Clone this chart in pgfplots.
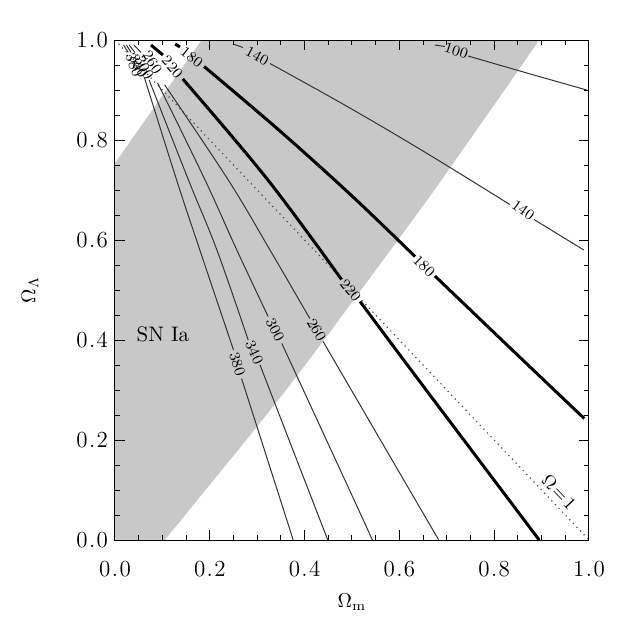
\documentclass[border=0pt]{standalone}
\usepackage{pgfplots}
\pgfplotsset{compat=1.18}
\definecolor{sngray}{RGB}{200,200,200}
\newcommand{\clab}[4]{\node[font=\fontsize{7.5}{8}\selectfont, rotate=#3, inner sep=0pt] at (axis cs:#1,#2) {#4};}
\newcommand{\tl}[2]{#1\kern0.06em.\kern0.06em#2}
\pgfplotsset{
  thin contour/.style={black!80, line width=0.5pt, smooth, tension=0.6},
  thick contour/.style={black, line width=1.5pt, smooth, tension=0.6},
}
\begin{document}
\begin{tikzpicture}
\path[use as bounding box] (-57.5pt,-41.5pt) rectangle (254pt,270pt);
\begin{axis}[
  anchor=south west, at={(0,0)},
  scale only axis, width=237pt, height=250pt,
  xmin=0, xmax=1, ymin=0, ymax=1,
  xtick={0,0.2,0.4,0.6,0.8,1}, ytick={0,0.2,0.4,0.6,0.8,1},
  xticklabels={\tl00,\tl02,\tl04,\tl06,\tl08,\tl10},
  yticklabels={\tl00,\tl02,\tl04,\tl06,\tl08,\tl10},
  minor tick num=3,
  tick align=inside,
  major tick length=5pt, minor tick length=2.5pt,
  axis on top,
  axis line style={line width=0.5pt},
  every tick/.style={line width=0.5pt, black},
  tick label style={font=\fontsize{11.5}{13}\selectfont},
  xticklabel style={yshift=-7pt},
  xlabel={$\Omega_{\mathrm{m}}$},
  ylabel={$\Omega_{\Lambda}$},
  xlabel style={at={(axis description cs:0.5,-0.124)}, anchor=center, font=\fontsize{10}{12}\selectfont},
  ylabel style={at={(axis description cs:-0.179,0.5)}, anchor=center, rotate=0, font=\fontsize{10}{12}\selectfont},
]
% SN Ia band
\addplot[fill=sngray, draw=none] coordinates {
 (0,0) (0,0.754) (0.183,1.0) (0.895,1.0) (0.822,0.9) (0.748,0.8) (0.674,0.7) (0.597,0.6)
 (0.519,0.5) (0.441,0.4) (0.361,0.3) (0.277,0.2) (0.191,0.1) (0.105,0)
} -- cycle;
% Omega = 1
\addplot[black!70, dotted, line width=0.6pt] coordinates {(0,1) (1,0)};
% 100
\addplot[thin contour] coordinates {(0.675,0.99) (0.696,0.987)};
\addplot[thin contour] coordinates {(0.745,0.968) (0.869,0.934) (0.995,0.90)};
% 140
\addplot[thin contour] coordinates {(0.249,0.992) (0.27,0.985)};
\addplot[thin contour] coordinates {(0.327,0.953) (0.49,0.867) (0.655,0.775) (0.833,0.671)};
\addplot[thin contour] coordinates {(0.884,0.641) (0.989,0.580)};
% 180
\addplot[thick contour] coordinates {(0.127,0.992) (0.137,0.986)};
\addplot[thick contour] coordinates {(0.188,0.947) (0.348,0.818) (0.50,0.688) (0.633,0.567)};
\addplot[thick contour] coordinates {(0.675,0.528) (0.837,0.381) (0.99,0.243)};
% 220
\addplot[thick contour] coordinates {(0.076,0.99) (0.101,0.97)};
\addplot[thick contour] coordinates {(0.143,0.922) (0.321,0.722) (0.478,0.521)};
\addplot[thick contour] coordinates {(0.517,0.477) (0.643,0.317) (0.895,0.0)};
% 260
\addplot[thin contour] coordinates {(0.040,0.99) (0.055,0.975)};
\addplot[thin contour] coordinates {(0.105,0.91) (0.239,0.72) (0.327,0.58) (0.411,0.443)};
\addplot[thin contour] coordinates {(0.439,0.397) (0.560,0.20) (0.683,0.0)};
% 300
\addplot[thin contour] coordinates {(0.030,0.99) (0.042,0.975)};
\addplot[thin contour] coordinates {(0.090,0.914) (0.190,0.72) (0.257,0.58) (0.323,0.447)};
\addplot[thin contour] coordinates {(0.352,0.393) (0.503,0.083) (0.543,0.0)};
% 340
\addplot[thin contour] coordinates {(0.024,0.99) (0.034,0.975)};
\addplot[thin contour] coordinates {(0.072,0.92) (0.155,0.72) (0.215,0.58) (0.281,0.40)};
\addplot[thin contour] coordinates {(0.306,0.35) (0.415,0.083) (0.449,0.0)};
% 380
\addplot[thin contour] coordinates {(0.018,0.99) (0.028,0.975)};
\addplot[thin contour] coordinates {(0.062,0.925) (0.130,0.72) (0.179,0.58) (0.250,0.38)};
\addplot[thin contour] coordinates {(0.267,0.323) (0.348,0.083) (0.376,0.0)};
% contour labels
\clab{0.72}{0.978}{-18}{100}
\clab{0.30}{0.968}{-28}{140}
\clab{0.861}{0.66}{-35}{140}
\clab{0.162}{0.966}{-38}{180}
\clab{0.652}{0.548}{-44}{180}
\clab{0.121}{0.946}{-50}{220}
\clab{0.497}{0.499}{-50}{220}
\clab{0.079}{0.955}{-58}{260}
\clab{0.425}{0.42}{-60}{260}
\clab{0.062}{0.945}{-62}{300}
\clab{0.338}{0.42}{-63}{300}
\clab{0.050}{0.948}{-64}{340}
\clab{0.294}{0.375}{-65}{340}
\clab{0.040}{0.950}{-68}{380}
\clab{0.258}{0.352}{-72}{380}
\node[font=\fontsize{10.5}{12}\selectfont] at (axis cs:0.101,0.412) {SN\,\,Ia};
\node[font=\fontsize{9.5}{11}\selectfont, rotate=-46.5, inner sep=0pt] at (axis cs:0.937,0.096) {$\Omega\!=\!1$};
\end{axis}
\end{tikzpicture}
\end{document}
